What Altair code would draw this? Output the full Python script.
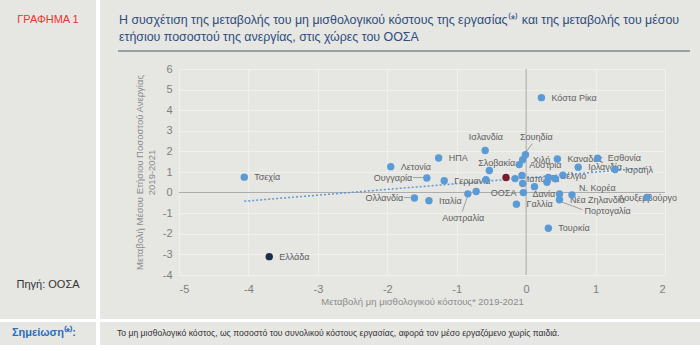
import altair as alt
import pandas as pd

# ---------------- data ----------------
names = ["Κόστα Ρίκα", "Τσεχία", "Ελλάδα", "Λετονία", "Ουγγαρία", "Ολλανδία", "Ιταλία",
         "ΗΠΑ", "Γερμανία", "Ισλανδία", "Σλοβακία", "p12", "p13", "p14", "p15", "p16",
         "ΟΟΣΑ", "Γαλλία", "Σουηδία", "Χιλή", "Αυστρία", "Καναδάς", "Εσθονία", "Ιρλανδία",
         "Ισραήλ", "Βέλγιο", "p27", "p28", "p29", "p30", "Δανία", "Πορτογαλία",
         "Νέα Ζηλανδία", "Λουξεμβούργο", "Τουρκία", "Αυστραλία", "p37"]
x_vals = [0.22, -4.06, -3.70, -1.95, -1.43, -1.61, -1.40,
          -1.26, -1.18, -0.59, -0.53, -0.58, -0.29, -0.16, -0.06, -0.05,
          -0.04, -0.14, -0.01, -0.05, -0.10, 0.45, 1.03, 0.75,
          1.28, 0.53, 0.32, 0.42, 0.30, 0.12, 0.48, 0.48,
          0.66, 1.74, 0.32, -0.84, -0.72]
y_vals = [4.61, 0.75, -3.11, 1.26, 0.71, -0.26, -0.39,
          1.68, 0.58, 2.04, 1.07, 0.63, 0.73, 0.68, 0.83, 0.44,
          0.00, -0.56, 1.84, 1.60, 1.36, 1.63, 1.67, 1.23,
          1.12, 0.85, 0.74, 0.67, 0.50, 0.29, -0.07, -0.35,
          -0.11, -0.23, -1.73, -0.06, 0.05]
groups = ["ΟΟΣΑ χώρες"] * len(names)
groups[2] = "Ελλάδα"
groups[12] = "Μέσος όρος"

# labels written just to the right of their dot
labels_right = ["Κόστα Ρίκα", "Τσεχία", "Ελλάδα", "Λετονία", "Ιταλία", "ΗΠΑ", "Γερμανία",
                "Γαλλία", "Χιλή", "Αυστρία", "Καναδάς", "Εσθονία", "Ιρλανδία", "Ισραήλ",
                "Τουρκία"]

# labels that were moved away from their dot (anchor in data units)
moved_text = ["Ισλανδία", "Σουηδία", "Σλοβακία", "Ιαπωνία", "Βέλγιο", "Ν. Κορέα",
              "Νέα Ζηλανδία", "Πορτογαλία", "Αυστραλία", "Ουγγαρία", "Ολλανδία",
              "ΟΟΣΑ", "Δανία", "Λουξεμβούργο"]
moved_x = [-0.58, -0.09, -0.69, 0.01, 0.49, 0.76, 0.63, 0.84, -1.21, -1.64, -1.77,
           -0.14, 0.42, 1.75]
moved_y = [2.72, 2.72, 1.46, 0.68, 0.83, 0.24, -0.34, -0.87, -1.21, 0.73, -0.24,
           0.00, -0.05, -0.24]
moved_align = ["center", "left", "left", "left", "left", "left", "left", "left", "left",
               "right", "right", "right", "right", "center"]

# leader lines (from, to)
lead_x1 = [0.09, 0.50, -0.84, -1.63, -1.76]
lead_y1 = [2.38, -0.44, -0.15, 0.73, -0.24]
lead_x2 = [-0.01, 0.81, -0.92, -1.48, -1.67]
lead_y2 = [1.94, -0.83, -0.92, 0.73, -0.24]

# dotted trend line end points
trend_x = [-4.06, 1.74]
trend_y = [-0.42, 1.20]

x_ticks = [-5, -4, -3, -2, -1, 0, 1, 2]
y_ticks = [-4, -3, -2, -1, 0, 1, 2, 3, 4, 5, 6]

title_lines = ["Η συσχέτιση της μεταβολής του μη μισθολογικού κόστους της εργασίας⁽*⁾ και της μεταβολής του μέσου",
               "ετήσιου ποσοστού της ανεργίας, στις χώρες του ΟΟΣΑ"]
x_title = "Μεταβολή μη μισθολογικού κόστους* 2019-2021"
y_title = ["Μεταβολή Μέσου Ετήσιου Ποσοστού  Ανεργίας", "2019-2021"]
note_text = "Το μη μισθολογικό κόστος, ως ποσοστό του συνολικού κόστους εργασίας, αφορά τον μέσο εργαζόμενο χωρίς παιδιά."

# ---------------- tables ----------------
pts = pd.DataFrame({"name": names, "x": x_vals, "y": y_vals, "group": groups})
right_df = pts[pts["name"].isin(labels_right)]
moved_df = pd.DataFrame({"t": moved_text, "x": moved_x, "y": moved_y, "a": moved_align})
lead_df = pd.DataFrame({"x": lead_x1, "y": lead_y1, "x2": lead_x2, "y2": lead_y2})
trend_df = pd.DataFrame({"x": trend_x, "y": trend_y})
zero_df = pd.DataFrame({"x": [0.0], "y": [0.0]})
one = pd.DataFrame({"k": [0]})

FONT = "Liberation Sans"
BG = "#e6e6e3"
LBL = "#5f5f5f"

xs = alt.Scale(domain=[-5, 2], nice=False)
ys = alt.Scale(domain=[-4, 6], nice=False)
ax_x = alt.Axis(values=x_ticks, labelExpr="'' + datum.value", grid=True, domain=False,
                ticks=False, labelPadding=8, titlePadding=2, labelOverlap=False)
ax_y = alt.Axis(values=y_ticks, labelExpr="'' + datum.value", grid=True, domain=False,
                ticks=False, labelPadding=7, titlePadding=6, labelOverlap=False)
X = alt.X("x:Q", scale=xs, title=x_title, axis=ax_x)
Y = alt.Y("y:Q", scale=ys, title=y_title, axis=ax_y)

# plot area origin in the page: (179, 69)
def px(v):
    return v - 179

def py(v):
    return v - 69

gaps = alt.layer(
    alt.Chart(one).mark_rect(color="white").encode(
        x=alt.value(px(96)), x2=alt.value(px(100)), y=alt.value(py(0)), y2=alt.value(py(351))),
    alt.Chart(one).mark_rect(color="white").encode(
        x=alt.value(px(0)), x2=alt.value(px(700)), y=alt.value(py(319)), y2=alt.value(py(322))),
    alt.Chart(one).mark_rect(color="white").encode(
        x=alt.value(px(0)), x2=alt.value(px(700)), y=alt.value(py(345)), y2=alt.value(py(351))),
)

decor = alt.layer(
    alt.Chart(one).mark_text(text="ΓΡΑΦΗΜΑ 1", font=FONT, fontSize=11, color="#e8352e",
                             align="center", baseline="middle").encode(
        x=alt.value(px(48)), y=alt.value(py(20))),
    alt.Chart(one).mark_text(text=title_lines, font=FONT, fontSize=12.4, color="#2f4d80",
                             align="left", baseline="middle", lineHeight=17).encode(
        x=alt.value(px(119)), y=alt.value(py(20))),
    alt.Chart(one).mark_rule(color="#4a5872", strokeWidth=1).encode(
        x=alt.value(px(118)), x2=alt.value(px(690)), y=alt.value(py(51))),
    alt.Chart(one).mark_text(text="Πηγή: ΟΟΣΑ", font=FONT, fontSize=11, color="#333333",
                             align="center", baseline="middle").encode(
        x=alt.value(px(48)), y=alt.value(py(285))),
    alt.Chart(one).mark_text(text="Σημείωση⁽*⁾:", font=FONT, fontSize=11, fontWeight="bold",
                             color="#2a6ebd", align="left", baseline="middle").encode(
        x=alt.value(px(12)), y=alt.value(py(333))),
    alt.Chart(one).mark_text(text=note_text, font=FONT, fontSize=8.6, color="#333333",
                             align="left", baseline="middle").encode(
        x=alt.value(px(117)), y=alt.value(py(333))),
)

zero_x = alt.Chart(zero_df).mark_rule(color="#a6a6a6", strokeWidth=1).encode(x=X)
zero_y = alt.Chart(zero_df).mark_rule(color="#a6a6a6", strokeWidth=1).encode(y=Y)

trend = alt.Chart(trend_df).mark_line(color="#5b9bd5", strokeWidth=1.5, strokeDash=[2, 2]).encode(
    x=X, y=Y)

leads = alt.Chart(lead_df).mark_rule(color="#8c8c8c", strokeWidth=0.8).encode(
    x=X, y=Y, x2="x2:Q", y2="y2:Q")

lab_right = alt.Chart(right_df).mark_text(font=FONT, fontSize=9, color=LBL, align="left",
                                          baseline="middle", dx=10).encode(
    x=X, y=Y, text="name:N")

moved_layers = []
for al in ["left", "right", "center"]:
    moved_layers.append(
        alt.Chart(moved_df).transform_filter(alt.datum.a == al).mark_text(
            font=FONT, fontSize=9, color=LBL, align=al, baseline="middle").encode(
            x=X, y=Y, text="t:N"))

points = alt.Chart(pts).mark_circle(size=55, opacity=1).encode(
    x=X, y=Y,
    color=alt.Color("group:N", legend=None,
                    scale=alt.Scale(domain=["ΟΟΣΑ χώρες", "Ελλάδα", "Μέσος όρος"],
                                    range=["#5b9bd5", "#1f2d4d", "#7a1c2c"])),
)

chart = alt.layer(gaps, decor, zero_x, zero_y, trend, leads, lab_right, *moved_layers, points).properties(
    width=486, height=206,
    autosize=alt.AutoSizeParams(type="none"),
    padding={"left": 179, "top": 69, "right": 35, "bottom": 76},
    background=BG,
).configure_view(stroke=None).configure_axis(
    labelFont=FONT, labelFontSize=11, labelColor="#7f7f7f",
    titleFont=FONT, titleFontSize=9.5, titleColor="#8c8c8c", titleFontWeight="normal",
    gridColor="#f0f0ee", gridWidth=1,
)

chart.save("out.html", embed_options={"renderer": "svg", "actions": False})
